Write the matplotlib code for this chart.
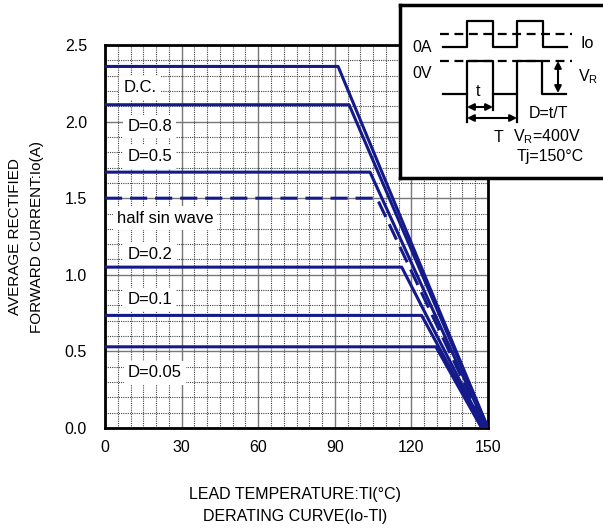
import numpy as np
import matplotlib
matplotlib.use('Agg')
import matplotlib.pyplot as plt

plt.rcParams['font.family'] = ['Liberation Sans', 'DejaVu Sans']

# derating curves: flat current up to the knee, then linear down to zero
labels = ['D.C.', 'D=0.8', 'D=0.5', 'half sin wave', 'D=0.2', 'D=0.1', 'D=0.05']
io_flat = [2.36, 2.11, 1.67, 1.50, 1.05, 0.735, 0.53]
t_knee = [91.3, 95.6, 103.8, 106.5, 116.2, 124.0, 129.6]
t_zero = [150, 150, 149.5, 149, 148.5, 148, 147.5]
dashed = [False, False, False, True, False, False, False]

# label anchors (x, y) in data units
label_x = [13.7, 17.6, 17.6, 23.5, 17.6, 17.6, 19.6]
label_y = [2.22, 1.97, 1.77, 1.37, 1.135, 0.84, 0.36]

xticks = [0, 30, 60, 90, 120, 150]
yticks = [0.0, 0.5, 1.0, 1.5, 2.0, 2.5]

navy = '#141a8a'

fig = plt.figure(figsize=(6.03, 5.28), dpi=100)
ax = fig.add_axes([105/603, 100/528, 383/603, 383/528])

ax.set_xlim(0, 150)
ax.set_ylim(0, 2.5)
ax.set_xticks(xticks)
ax.set_yticks(yticks)
ax.set_xticklabels([str(v) for v in xticks])
ax.set_yticklabels(['%.1f' % v for v in yticks])
ax.set_xticks(np.arange(0, 151, 5), minor=True)
ax.set_yticks(np.arange(0, 2.51, 0.1), minor=True)
ax.tick_params(which='both', length=0)
ax.tick_params(axis='y', pad=13, labelsize=11.5)
ax.tick_params(axis='x', pad=9, labelsize=11.5)
ax.grid(which='minor', color='#444444', lw=0.8, ls=(0, (1, 1)))
ax.grid(which='major', color='#777777', lw=1.0, ls='-')
ax.set_axisbelow(True)
for s in ax.spines.values():
    s.set_linewidth(2)
    s.set_color('black')

for i in range(len(labels)):
    xs = [0, t_knee[i], t_zero[i]]
    ys = [io_flat[i], io_flat[i], 0]
    if dashed[i]:
        ax.plot(xs, ys, color=navy, lw=2.2, dashes=(5.6, 2.6), zorder=3)
    else:
        ax.plot(xs, ys, color=navy, lw=2.2, zorder=3)
    ax.text(label_x[i], label_y[i], labels[i], fontsize=12, ha='center', va='center',
            bbox=dict(facecolor='white', edgecolor='none', pad=3), zorder=2.5)

fig.text(295/603, 1 - 495/528, 'LEAD TEMPERATURE:Tl(°C)', ha='center', va='center', fontsize=11.5)
fig.text(295/603, 1 - 517/528, 'DERATING CURVE(Io-Tl)', ha='center', va='center', fontsize=11.5)
fig.text(15/603, 1 - 237/528, 'AVERAGE RECTIFIED', ha='center', va='center', rotation=90, fontsize=11)
fig.text(37/603, 1 - 237/528, 'FORWARD CURRENT:Io(A)', ha='center', va='center', rotation=90, fontsize=11)

# inset: waveform diagram, drawn in pixel units of the box
ins = fig.add_axes([400/603, 1 - 178/528, 203/603, 173/528])
ins.set_xlim(400, 603)
ins.set_ylim(178, 5)
ins.set_xticks([])
ins.set_yticks([])
for s in ins.spines.values():
    s.set_linewidth(2.5)
    s.set_color('black')
ins.spines['right'].set_visible(False)

io_x = [443, 467, 467, 493, 493, 517, 517, 543, 543, 567]
io_y = [47, 47, 21, 21, 47, 47, 21, 21, 47, 47]
vr_x = [443, 467, 467, 493, 493, 517, 517, 542, 542, 566]
vr_y = [94, 94, 61, 61, 94, 94, 61, 61, 94, 94]
ins.plot(io_x, io_y, color='black', lw=1.6)
ins.plot(vr_x, vr_y, color='black', lw=1.6)
ins.plot([440, 572], [34, 34], color='black', lw=1.6, dashes=(4, 2.5))
ins.plot([440, 572], [61, 61], color='black', lw=1.6, dashes=(4, 2.5))
ins.plot([467, 467], [94, 122], color='black', lw=1.6)
ins.plot([493, 493], [94, 110], color='black', lw=1.6)
ins.plot([517, 517], [94, 122], color='black', lw=1.6)
arrow = dict(arrowstyle='<|-|>', color='black', lw=1.5, mutation_scale=10, shrinkA=0, shrinkB=0)
ins.annotate('', xy=(467, 107), xytext=(493, 107), arrowprops=arrow)
ins.annotate('', xy=(467, 118), xytext=(517, 118), arrowprops=arrow)
ins.annotate('', xy=(558, 61), xytext=(558, 93), arrowprops=arrow)

fs = 11.5
ins.text(422, 47, '0A', fontsize=fs, ha='center', va='center')
ins.text(422, 73, '0V', fontsize=fs, ha='center', va='center')
ins.text(587, 43, 'Io', fontsize=fs, ha='center', va='center')
ins.text(588, 77, 'V$_\\mathregular{R}$', fontsize=fs, ha='center', va='center')
ins.text(478, 92, 't', fontsize=fs, ha='center', va='center')
ins.text(498, 137, 'T', fontsize=fs, ha='center', va='center')
ins.text(548, 113, 'D=t/T', fontsize=fs, ha='center', va='center')
ins.text(547, 137, 'V$_\\mathregular{R}$=400V', fontsize=fs, ha='center', va='center')
ins.text(550, 157, 'Tj=150°C', fontsize=fs, ha='center', va='center')

fig.savefig('out.png', dpi=100)
